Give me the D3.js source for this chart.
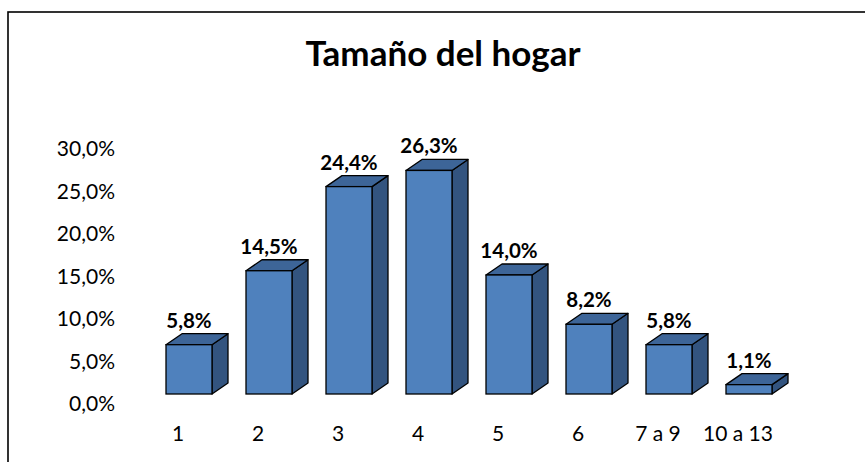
<!DOCTYPE html>
<html>
<head>
<meta charset="utf-8">
<script src="https://cdn.jsdelivr.net/npm/d3@7"></script>
<style>
  body { margin: 0; background: #fff; }
  text { font-family: Lato, "Open Sans", sans-serif; fill: #000; }
</style>
</head>
<body>
<script>
// household size distribution
const categories = ["1", "2", "3", "4", "5", "6", "7 a 9", "10 a 13"];
const values = [5.8, 14.5, 24.4, 26.3, 14.0, 8.2, 5.8, 1.1];
const yTicks = [0, 5, 10, 15, 20, 25, 30];

const width = 865;
const height = 462;

// 3d look: depth offset of the box
const depthX = 16;
const depthY = -11;
const floorShift = 10;

const svg = d3.select("body")
  .append("svg")
  .attr("width", width)
  .attr("height", height);

svg.append("rect")
  .attr("width", width)
  .attr("height", height)
  .attr("fill", "#fff");

// chart frame (right and bottom edges fall outside the picture)
svg.append("rect")
  .attr("x", 8)
  .attr("y", 12)
  .attr("width", 1000)
  .attr("height", 600)
  .attr("fill", "none")
  .attr("stroke", "#000")
  .attr("stroke-width", 1.6);

svg.append("text")
  .attr("x", 443)
  .attr("y", 66)
  .attr("text-anchor", "middle")
  .attr("font-size", 35)
  .attr("font-weight", "bold")
  .text("Tamaño del hogar");

const y = d3.scaleLinear().domain([0, 30]).range([404, 149]);
const x = d3.scaleBand().domain(categories).range([138, 778]);

const fmt = v => d3.format(".1f")(v).replace(".", ",") + "%";

// y axis labels
svg.append("g")
  .selectAll("text")
  .data(yTicks)
  .enter()
  .append("text")
  .attr("x", 115)
  .attr("y", d => y(d))
  .attr("dy", "0.35em")
  .attr("text-anchor", "end")
  .attr("font-size", 21)
  .text(d => fmt(d));

// category labels
svg.append("g")
  .selectAll("text")
  .data(categories)
  .enter()
  .append("text")
  .attr("x", d => x(d) + x.bandwidth() / 2)
  .attr("y", 434)
  .attr("dy", "0.35em")
  .attr("text-anchor", "middle")
  .attr("font-size", 21)
  .text(d => d);

const bars = categories.map((c, i) => {
  const x0 = x(c) + x.bandwidth() / 2 - 12;
  const x1 = x0 + 46;
  const yTop = y(values[i]) - floorShift;
  const yBot = y(0) - floorShift;
  return { c, v: values[i], x0, x1, yTop, yBot };
});

const barG = svg.append("g")
  .selectAll("g")
  .data(bars)
  .enter()
  .append("g");

barG.append("path")
  .attr("d", d => `M${d.x1},${d.yBot}L${d.x1 + depthX},${d.yBot + depthY}L${d.x1 + depthX},${d.yTop + depthY}L${d.x1},${d.yTop}Z`)
  .attr("fill", "#33547f")
  .attr("stroke", "#000")
  .attr("stroke-width", 1.3)
  .attr("stroke-linejoin", "round");

barG.append("path")
  .attr("d", d => `M${d.x0},${d.yTop}L${d.x0 + depthX},${d.yTop + depthY}L${d.x1 + depthX},${d.yTop + depthY}L${d.x1},${d.yTop}Z`)
  .attr("fill", "#3d6598")
  .attr("stroke", "#000")
  .attr("stroke-width", 1.3)
  .attr("stroke-linejoin", "round");

barG.append("rect")
  .attr("x", d => d.x0)
  .attr("y", d => d.yTop)
  .attr("width", d => d.x1 - d.x0)
  .attr("height", d => d.yBot - d.yTop)
  .attr("fill", "#4f81bd")
  .attr("stroke", "#000")
  .attr("stroke-width", 1.3);

barG.append("text")
  .attr("x", d => (d.x0 + d.x1) / 2)
  .attr("y", d => d.yTop + depthY - 6)
  .attr("text-anchor", "middle")
  .attr("font-size", 20.5)
  .attr("font-weight", "bold")
  .text(d => fmt(d.v));
</script>
</body>
</html>
